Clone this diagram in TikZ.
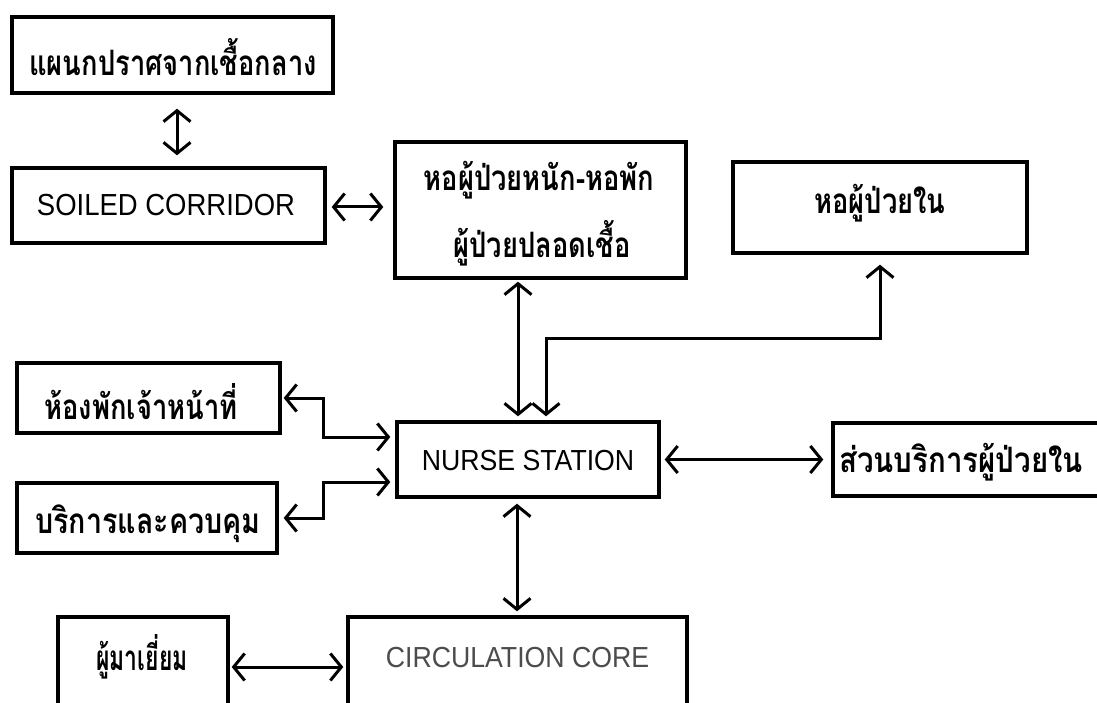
\documentclass[tikz,border=0pt]{standalone}
\usepackage{fontspec}
\usepackage{graphicx}
\setmainfont{Liberation Sans}[FakeStretch=0.92]
\newfontfamily\thai[Script=Thai,FakeStretch=0.78]{Loma}
\usetikzlibrary{arrows.meta}

\tikzset{
  box/.style={draw=black, line width=3.4pt, fill=white, inner sep=0pt},
  thaitext/.style={font=\thai\bfseries\fontsize{35}{40}\selectfont, inner sep=0pt},
  latin/.style={font=\fontsize{29}{33}\selectfont, inner sep=0pt},
  barb/.tip={Straight Barb[length=11pt,width=27pt,line width=3pt]},
  dbl/.style={line width=3pt, {barb}-{barb}},
}

\begin{document}
\begin{tikzpicture}[x=1pt,y=-1pt]
\useasboundingbox (0,0) rectangle (1097,703);
\clip (0,0) rectangle (1097,703);
\fill[white] (0,0) rectangle (1097,703);

% boxes
\node[box, minimum width=321pt, minimum height=76pt] (cssd) at (172.5,55) {};
\node[thaitext] (cssdt) at (173,57) {แผนกปราศจากเชื้อกลาง};

\node[box, minimum width=313pt, minimum height=75pt] (soiled) at (168.5,205.5) {};
\node[latin] (soiledt) at (166,205) {\scalebox{1.03}[1.05]{SOILED CORRIDOR}};

\node[box, minimum width=291pt, minimum height=136pt] (icu) at (540.5,210) {};
\node[thaitext] (icut1) at (539,180) {หอผู้ป่วยหนัก-หอพัก};
\node[thaitext] (icut2) at (542,243) {ผู้ป่วยปลอดเชื้อ};

\node[box, minimum width=294pt, minimum height=91pt] (ward) at (880,207.5) {};
\node[thaitext] (wardt) at (880,203) {หอผู้ป่วยใน};

\node[box, minimum width=263pt, minimum height=70pt] (staff) at (148.5,398) {};
\node[thaitext] (stafft) at (141,402) {ห้องพักเจ้าหน้าที่};

\node[box, minimum width=260pt, minimum height=70pt] (serv) at (147,518) {};
\node[thaitext] (servt) at (148,524) {\scalebox{1.05}[1]{บริการและควบคุม}};

\node[box, minimum width=262pt, minimum height=75pt] (ns) at (528,459.5) {};
\node[latin] (nst) at (528,461) {NURSE STATION};

\node[box, minimum width=290pt, minimum height=73pt] (ipd) at (978,459.5) {};
\node[thaitext] (ipdt) at (961,462) {\scalebox{1.08}[1]{ส่วนบริการผู้ป่วยใน}};

\node[box, minimum width=339pt, minimum height=123pt] (core) at (517.5,678.5) {};
\node[latin, text=black!70] (coret) at (517.5,658) {CIRCULATION CORE};

\node[box, minimum width=170pt, minimum height=123pt] (visit) at (143,678.5) {};
\node[thaitext] (visitt) at (142,657) {\scalebox{0.84}[1]{ผู้มาเยี่ยม}};

% junction points of the bent connectors
\coordinate (j1) at (323,437);
\coordinate (j2) at (323,482);
\coordinate (bend) at (546,338);

% connectors
\draw[dbl, shorten <=14pt, shorten >=11pt] ([xshift=4.5pt]cssd.south) -- ([xshift=4.5pt]cssd.south |- soiled.north);
\draw[dbl, shorten <=5pt, shorten >=10pt] ([yshift=-1.5pt]soiled.east) -- ([yshift=-1.5pt]soiled.east -| icu.west);
\draw[dbl, shorten <=2pt, shorten >=4pt] ([xshift=-22.5pt]icu.south) -- ([xshift=-22.5pt]icu.south |- ns.north);
\draw[dbl, shorten <=10pt, shorten >=4pt] (ward.south) |- (bend) -- (bend |- ns.north);
\draw[dbl, shorten <=2pt, shorten >=5pt] (staff.east) -| (j1) -- (j1 -| ns.west);
\draw[dbl, shorten <=5pt, shorten >=5pt] (serv.east) -| (j2) -- (j2 -| ns.west);
\draw[dbl, shorten <=4pt, shorten >=8pt] (ns.east) -- (ns.east -| ipd.west);
\draw[dbl, shorten <=5pt, shorten >=4pt] ([xshift=-11pt]ns.south) -- ([xshift=-11pt]ns.south |- core.north);
\draw[dbl, shorten <=2pt, shorten >=3pt] ([yshift=11.5pt]visit.east) -- ([yshift=11.5pt]core.west);
\end{tikzpicture}
\end{document}
